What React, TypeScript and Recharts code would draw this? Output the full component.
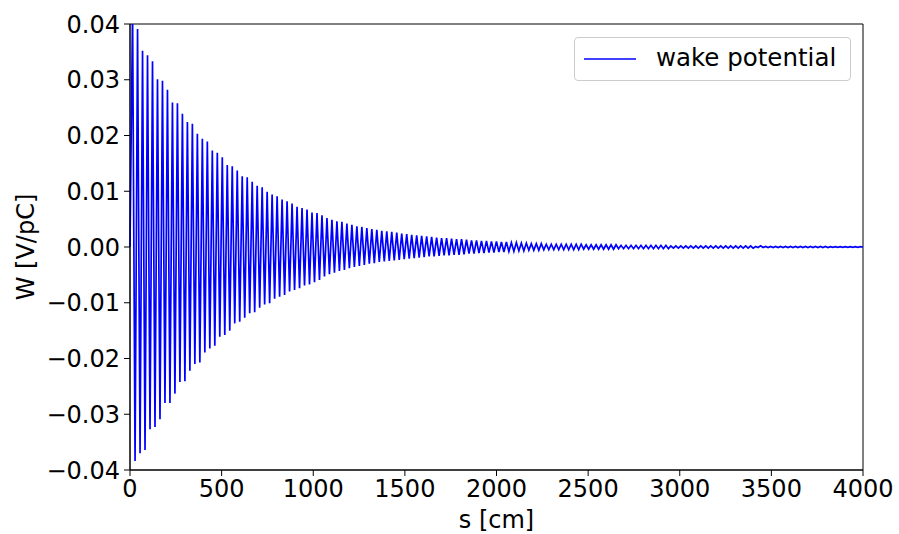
import React from "react";
import { LineChart, Line, XAxis, YAxis, ReferenceArea, Label } from "recharts";

// peak value of each oscillation cycle [V/pC]
const peaks = [
  0.0425, 0.0391, 0.0352, 0.0344, 0.0333, 0.0301, 0.0298, 0.0282, 0.0259, 0.0258,
  0.0239, 0.0224, 0.0221, 0.0203, 0.0194, 0.0189, 0.0173, 0.0169, 0.0161, 0.0147,
  0.0145, 0.0137, 0.0127, 0.0125, 0.0117, 0.011, 0.0107, 0.0099, 0.0094, 0.0091,
  0.0085, 0.0082, 0.0078, 0.0072, 0.007, 0.0067, 0.0062, 0.0061, 0.0057, 0.0052,
  0.0049, 0.0046, 0.0045, 0.0042, 0.004, 0.0037, 0.0036, 0.0034, 0.0032, 0.0031,
  0.0029, 0.0028, 0.0027, 0.0026, 0.0024, 0.0023, 0.0022, 0.0021, 0.002, 0.0019,
  0.0018, 0.0017, 0.0016, 0.0016, 0.0015, 0.0014, 0.0014, 0.0013, 0.0012, 0.0012,
  0.0011, 0.0011, 0.001, 0.001, 0.0009, 0.0009, 0.0008, 0.0008, 0.0007, 0.0007,
  0.0006, 0.0006, 0.0006, 0.0005, 0.0005, 0.0005, 0.0005, 0.0005, 0.0005, 0.0005,
  0.0005, 0.0004, 0.0004, 0.0004, 0.0004, 0.0004, 0.0004, 0.0004, 0.0003, 0.0003,
  0.0003, 0.0003, 0.0003, 0.0003, 0.0003, 0.0003, 0.0003, 0.0003, 0.0002, 0.0002,
  0.0002, 0.0002, 0.0002, 0.0002, 0.0002, 0.0002, 0.0002, 0.0002, 0.0002, 0.0002,
  0.0002, 0.0002, 0.0002, 0.0002, 0.0002, 0.0001, 0.0002, 0.0001, 0.0001, 0.0001,
  0.0001, 0.0001, 0.0001, 0.0001, 0.0001, 0.0001, 0.0001, 0.0001, 0.0001, 0.0001,
  0.00005, 0.00005, 0.00005, 0.00005, 0.00005, 0.00005, 0.00005,
];

// trough value following each peak [V/pC]
const troughs = [
  -0.0384, -0.037, -0.0364, -0.0327, -0.0323, -0.0309, -0.028, -0.028, -0.0263, -0.0242,
  -0.0241, -0.0222, -0.021, -0.0207, -0.0189, -0.0182, -0.0177, -0.0161, -0.0158, -0.015,
  -0.0137, -0.0134, -0.0127, -0.0119, -0.0117, -0.0109, -0.0103, -0.0101, -0.0093, -0.0089,
  -0.0086, -0.008, -0.0077, -0.0074, -0.0069, -0.0067, -0.0063, -0.0059, -0.0053, -0.0049,
  -0.0046, -0.0043, -0.0041, -0.0038, -0.0036, -0.0034, -0.0032, -0.003, -0.0029, -0.0027,
  -0.0026, -0.0025, -0.0024, -0.0023, -0.0022, -0.0021, -0.002, -0.0019, -0.0018, -0.0017,
  -0.0017, -0.0016, -0.0015, -0.0015, -0.0014, -0.0014, -0.0013, -0.0012, -0.0012, -0.0011,
  -0.0011, -0.001, -0.001, -0.0009, -0.0009, -0.0008, -0.0008, -0.0007, -0.0007, -0.0006,
  -0.0006, -0.0006, -0.0005, -0.0005, -0.0005, -0.0005, -0.0005, -0.0005, -0.0005, -0.0005,
  -0.0004, -0.0004, -0.0004, -0.0004, -0.0004, -0.0004, -0.0004, -0.0003, -0.0003, -0.0003,
  -0.0003, -0.0003, -0.0003, -0.0003, -0.0003, -0.0003, -0.0003, -0.0003, -0.0002, -0.0002,
  -0.0002, -0.0002, -0.0002, -0.0002, -0.0002, -0.0002, -0.0002, -0.0002, -0.0002, -0.0002,
  -0.0002, -0.0002, -0.0002, -0.0002, -0.0002, -0.0001, -0.0001, -0.0001, -0.0001, -0.0001,
  -0.0001, -0.0001, -0.0001, -0.0001, -0.0001, -0.0001, -0.0001, -0.0001, -0.0001, -0.0001,
  -0.00005, -0.00005, -0.00005, -0.00005, -0.00005, -0.00005,
];

const firstPeak = 14; // cm
const period = 27.2; // cm between successive peaks
const sEnd = 4000;

const xTicks = [0, 500, 1000, 1500, 2000, 2500, 3000, 3500, 4000];
const yTicks = [-0.04, -0.03, -0.02, -0.01, 0, 0.01, 0.02, 0.03, 0.04];

const data: { s: number; w: number }[] = [{ s: 0, w: 0 }];
peaks.forEach((p, i) => {
  data.push({ s: firstPeak + period * i, w: p });
  if (i < troughs.length) data.push({ s: firstPeak + period * (i + 0.5), w: troughs[i] });
});
data.push({ s: sEnd, w: 0 });

const FONT = "'DejaVu Sans', sans-serif";
const tickStyle = { fill: "#000", fontSize: 24, fontFamily: FONT };

const fmtY = (v: number) => (v < 0 ? "\u2212" + Math.abs(v).toFixed(2) : v.toFixed(2));

const LegendBox = () => (
  <div
    style={{
      position: "absolute",
      left: 574,
      top: 37,
      width: 275,
      height: 42,
      border: "1px solid #cccccc",
      borderRadius: 4,
      background: "rgba(255,255,255,0.8)",
      fontFamily: FONT,
      fontSize: 24.5,
      color: "#000",
    }}
  >
    <svg width={70} height={42} style={{ position: "absolute", left: 0, top: 0 }}>
      <line x1={9} y1={21} x2={61} y2={21} stroke="#0000ff" strokeWidth={1.5} />
    </svg>
    <span style={{ position: "absolute", left: 81, top: 5, whiteSpace: "nowrap" }}>wake potential</span>
  </div>
);

export default function App() {
  return (
    <div style={{ position: "absolute", left: 0, top: 0, width: 899, height: 534, background: "#fff" }}>
      <LineChart width={899} height={534} data={data} margin={{ top: 24, right: 36, bottom: 0, left: 0 }}>
        <XAxis
          dataKey="s"
          type="number"
          domain={[0, 4000]}
          ticks={xTicks}
          interval={0}
          height={64}
          tick={tickStyle}
          tickSize={6}
          tickMargin={4}
          stroke="#000"
          tickLine={{ stroke: "#000" }}
        >
          <Label
            value="s [cm]"
            position="insideBottom"
            offset={6}
            style={{ fill: "#000", fontSize: 24, fontFamily: FONT }}
          />
        </XAxis>
        <YAxis
          type="number"
          domain={[-0.04, 0.04]}
          allowDataOverflow
          ticks={yTicks}
          interval={0}
          width={130}
          tick={tickStyle}
          tickFormatter={fmtY}
          tickSize={6}
          tickMargin={4}
          stroke="#000"
          tickLine={{ stroke: "#000" }}
        >
          <Label
            content={({ viewBox }: any) => {
              const cx = 26;
              const cy = viewBox.y + viewBox.height / 2;
              return (
                <text
                  x={cx}
                  y={cy}
                  transform={`rotate(-90, ${cx}, ${cy})`}
                  textAnchor="middle"
                  dominantBaseline="central"
                  style={{ fill: "#000", fontSize: 24, fontFamily: FONT }}
                >
                  W [V/pC]
                </text>
              );
            }}
          />
        </YAxis>
        <Line
          type="linear"
          dataKey="w"
          stroke="#0000ff"
          strokeWidth={1.7}
          dot={false}
          isAnimationActive={false}
        />
        <ReferenceArea x1={0} x2={4000} y1={-0.04} y2={0.04} fill="none" stroke="#000" strokeWidth={1} />
      </LineChart>
      <LegendBox />
    </div>
  );
}
